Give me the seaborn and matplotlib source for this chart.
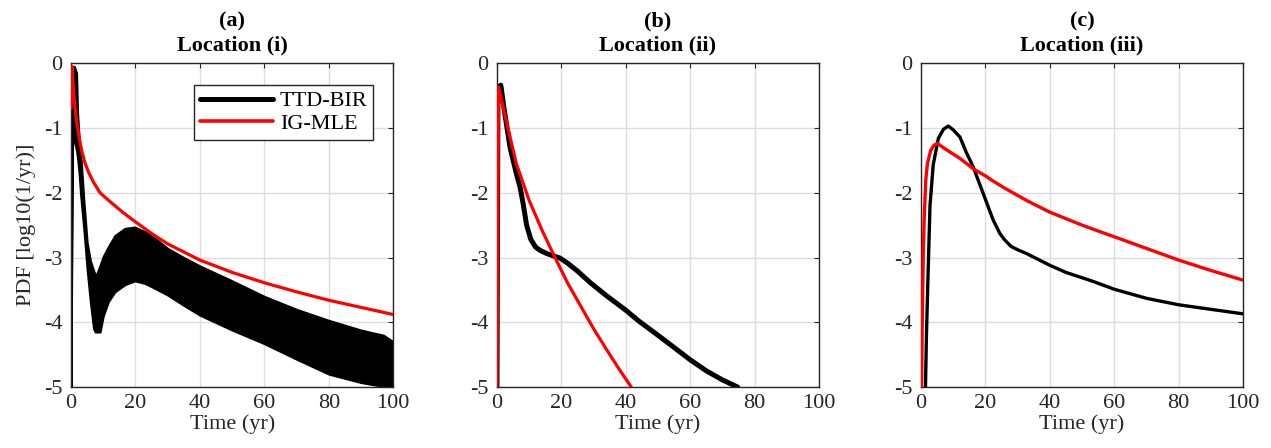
import numpy as np
import pandas as pd
import matplotlib
matplotlib.use("Agg")
import matplotlib.pyplot as plt
from matplotlib.lines import Line2D
import seaborn as sns

# ---------------- data ----------------
# (a) Location (i): TTD-BIR is a dense oscillating band -> upper / lower envelopes
t_a_band = [0, 0.4, 1.0, 1.7, 2.0, 2.5, 3.0, 4.0, 5.0, 6.0, 7.0, 7.5, 8.0, 9.0, 10.0,
            11.6, 13.6, 16.7, 19.8, 22.9, 25, 30, 35, 40, 50, 60, 70, 80, 90, 97, 100]
a_ttd_upper = [-5, -0.05, -0.05, -0.15, -0.75, -1.15, -1.4, -2.14, -2.77, -3.05, -3.2, -3.27,
               -3.25, -3.12, -2.98, -2.83, -2.66, -2.55, -2.53, -2.6, -2.66, -2.86, -3.0,
               -3.13, -3.36, -3.6, -3.8, -3.97, -4.12, -4.2, -4.3]
a_ttd_lower = [-5, -1.0, -1.2, -1.35, -1.45, -1.7, -2.05, -2.58, -3.19, -3.69, -4.1, -4.15,
               -4.15, -4.15, -3.9, -3.68, -3.53, -3.42, -3.36, -3.4, -3.45, -3.58, -3.74,
               -3.89, -4.12, -4.33, -4.57, -4.8, -4.93, -4.99, -5.0]
t_a_ig = [0, 0.25, 0.6, 1.1, 1.5, 2.06, 2.6, 3.3, 4.2, 5.4, 7, 9, 11, 13.6, 16, 20, 25,
          30, 40, 50, 60, 70, 80, 90, 100]
a_ig = [-0.7, -0.05, -0.3, -0.62, -0.82, -1.0, -1.17, -1.35, -1.52, -1.68, -1.84, -2.0,
        -2.09, -2.2, -2.3, -2.45, -2.63, -2.79, -3.04, -3.23, -3.39, -3.53, -3.66,
        -3.77, -3.88]

# (b) Location (ii)
t_b_ttd = [0, 0.3, 0.6, 1.2, 2.2, 4.05, 6.1, 7.2, 8.2, 9.2, 10.5, 12.0, 13.4, 15.5, 19.6,
           22, 25, 29, 34, 39.9, 44, 49.7, 55, 60, 65, 70, 74.7]
b_ttd = [-5, -0.6, -0.36, -0.34, -0.7, -1.3, -1.72, -1.92, -2.19, -2.5, -2.72, -2.84,
         -2.89, -2.94, -3.01, -3.09, -3.21, -3.39, -3.59, -3.81, -3.98, -4.19, -4.39,
         -4.58, -4.75, -4.89, -5.0]
t_b_ig = [0, 0.5, 3, 6, 10, 14, 18, 22, 26, 30, 34, 38, 41.7]
b_ig = [-5, -0.37, -0.91, -1.55, -2.12, -2.58, -3.0, -3.4, -3.75, -4.1, -4.42, -4.73, -5.0]

# (c) Location (iii)
t_c_ttd = [1.4, 1.7, 2.1, 2.8, 3.8, 5.4, 7, 8.5, 10, 12.1, 14, 16.2, 19.3, 22.4, 24.5,
           26, 28, 30, 32.8, 36, 40, 45, 53.5, 60, 70, 80, 90, 100]
c_ttd = [-5, -4.2, -3.45, -2.2, -1.57, -1.16, -1.02, -0.97, -1.03, -1.14, -1.37, -1.6,
         -2.01, -2.42, -2.63, -2.73, -2.83, -2.88, -2.94, -3.02, -3.12, -3.23, -3.37,
         -3.49, -3.63, -3.73, -3.8, -3.87]
t_c_ig = [0.2, 0.4, 0.7, 1.0, 1.5, 2, 3, 4, 5, 6, 8, 12.1, 16.2, 20, 22.4, 26, 32.8, 40,
          50, 55.5, 60, 70, 80, 90, 100]
c_ig = [-5, -4.0, -3.0, -2.4, -1.8, -1.55, -1.35, -1.27, -1.24, -1.27, -1.34, -1.47,
        -1.63, -1.74, -1.82, -1.93, -2.12, -2.3, -2.5, -2.6, -2.68, -2.86, -3.04,
        -3.2, -3.35]

panel_letters = ["(a)", "(b)", "(c)"]
locations = ["Location (i)", "Location (ii)", "Location (iii)"]
series_names = ["TTD-BIR", "IG-MLE"]
x_ticks = [0, 20, 40, 60, 80, 100]
y_ticks = [0, -1, -2, -3, -4, -5]

# ---------------- style ----------------
sns.set_theme(style="whitegrid")
plt.rcParams["font.family"] = ["Liberation Serif", "DejaVu Serif"]
plt.rcParams.update({
    "axes.unicode_minus": False,
    "xtick.direction": "in", "ytick.direction": "in",
    "xtick.top": True, "ytick.right": True,
    "xtick.major.size": 3.5, "ytick.major.size": 3.5,
    "xtick.major.width": 0.8, "ytick.major.width": 0.8,
    "xtick.color": "#262626", "ytick.color": "#262626",
    "axes.edgecolor": "#262626", "axes.linewidth": 1.0,
    "grid.color": "#dcdcdc", "grid.linewidth": 1.0,
    "text.color": "#000000",
})

FS = 16
fig = plt.figure(figsize=(12.71, 4.48), dpi=100)
lefts = [0.0559, 0.391, 0.7246]
axes = [fig.add_axes([l, 0.136, 0.2535, 0.723]) for l in lefts]

# (a)
ax = axes[0]
ax.fill_between(t_a_band, a_ttd_lower, a_ttd_upper, facecolor="black",
                edgecolor="black", linewidth=1.5, zorder=2)
sns.lineplot(x=t_a_ig, y=a_ig, color="red", lw=2.3, ax=ax, sort=False,
             estimator=None, zorder=3)

# (b)
ax = axes[1]
sns.lineplot(x=t_b_ttd, y=b_ttd, color="black", lw=3.6, ax=ax, sort=False,
             estimator=None, zorder=2)
sns.lineplot(x=t_b_ig, y=b_ig, color="red", lw=2.3, ax=ax, sort=False,
             estimator=None, zorder=3)

# (c)
ax = axes[2]
sns.lineplot(x=t_c_ttd, y=c_ttd, color="black", lw=2.4, ax=ax, sort=False,
             estimator=None, zorder=2)
sns.lineplot(x=t_c_ig, y=c_ig, color="red", lw=2.4, ax=ax, sort=False,
             estimator=None, zorder=3)

for i, ax in enumerate(axes):
    ax.set_xlim(0, 100)
    ax.set_ylim(-5, 0)
    ax.set_xticks(x_ticks)
    ax.set_yticks(y_ticks)
    ax.set_xticklabels([str(v) for v in x_ticks])
    ax.set_yticklabels([str(v) for v in y_ticks])
    ax.tick_params(axis="both", labelsize=FS, pad=6, colors="#262626")
    ax.tick_params(axis="x", pad=5)
    ax.grid(True, zorder=0)
    for s in ax.spines.values():
        s.set_visible(True)
        s.set_color("#262626")
        s.set_linewidth(1.0)
    ax.set_xlabel("Time (yr)", fontsize=FS, labelpad=1, color="#262626")
    ax.set_ylabel("")
    ax.set_title(panel_letters[i] + "\n" + locations[i], fontsize=FS,
                 fontweight="bold", pad=9, linespacing=1.25)

axes[0].set_ylabel("PDF [log10(1/yr)]", fontsize=FS, labelpad=6, color="#262626")

handles = [Line2D([0], [0], color="black", lw=3.6),
           Line2D([0], [0], color="red", lw=2.6)]
leg = axes[0].legend(handles, series_names, loc="upper right",
                     bbox_to_anchor=(0.938, 0.932), borderaxespad=0,
                     fontsize=FS, handlelength=3.3, handletextpad=0.3,
                     labelspacing=0.1, borderpad=0.25, fancybox=False,
                     framealpha=1, edgecolor="#262626")
leg.get_frame().set_linewidth(1.0)

fig.savefig("out.png", dpi=100)
